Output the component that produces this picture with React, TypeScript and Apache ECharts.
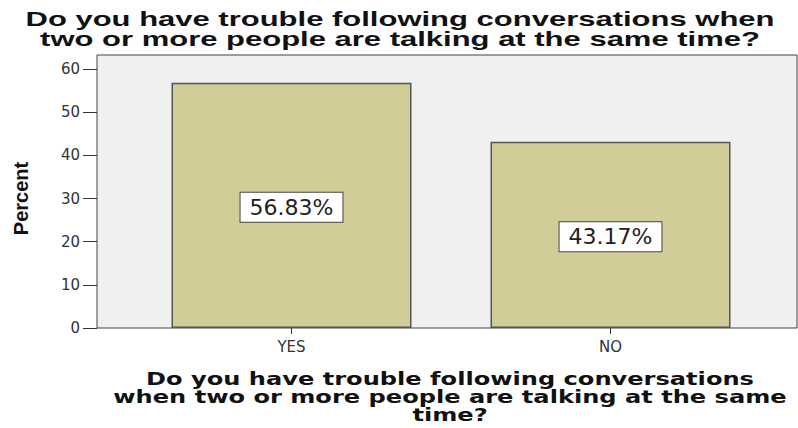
import React, { useEffect, useRef } from "react";
import * as echarts from "echarts";

const categories = ["YES", "NO"];
const percents = [56.83, 43.17];
const yTicks = [0, 10, 20, 30, 40, 50, 60];
const titleText = "Do you have trouble following conversations when\ntwo or more people are talking at the same time?";
const xTitleText = "Do you have trouble following conversations\nwhen two or more people are talking at the same\ntime?";

export default function App() {
  const ref = useRef<HTMLDivElement>(null);
  useEffect(() => {
    if (!ref.current) return;
    const chart = echarts.init(ref.current, null, { renderer: "svg" });
    chart.setOption({
      animation: false,
      backgroundColor: "#ffffff",
      graphic: [
        {
          type: "rect",
          z: 0,
          shape: { x: 97, y: 55, width: 700, height: 273 },
          style: { fill: "#f0f0f0", stroke: "#444", lineWidth: 1 },
        },
        {
          type: "text",
          z: 5,
          x: 400,
          y: 9,
          scaleX: 1.55,
          style: {
            text: titleText,
            align: "center",
            verticalAlign: "top",
            fontFamily: "Liberation Sans, Arial, sans-serif",
            fontWeight: "bold",
            fontSize: 20,
            lineHeight: 20,
            fill: "#111",
          },
        },
        {
          type: "text",
          z: 5,
          x: 450,
          y: 370,
          scaleX: 1.34,
          style: {
            text: xTitleText,
            align: "center",
            verticalAlign: "top",
            fontFamily: "DejaVu Sans, Verdana, sans-serif",
            fontWeight: "bold",
            fontSize: 18,
            lineHeight: 18,
            fill: "#111",
          },
        },
      ],
      grid: { left: 132, right: 28, top: 69, bottom: 100 },
      xAxis: {
        type: "category",
        data: categories,
        axisLine: { show: false },
        axisTick: { show: true, alignWithLabel: true, length: 6, lineStyle: { color: "#333" } },
        axisLabel: {
          fontFamily: "DejaVu Sans, Verdana, sans-serif",
          fontSize: 15,
          color: "#333",
          margin: 11,
        },
      },
      yAxis: {
        type: "value",
        min: 0,
        max: 60,
        interval: 10,
        offset: 35,
        splitLine: { show: false },
        axisLine: { show: false },
        axisTick: { show: true, length: 14, lineStyle: { color: "#333" } },
        axisLabel: {
          fontFamily: "DejaVu Sans, Verdana, sans-serif",
          fontSize: 15,
          color: "#333",
          margin: 17,
          formatter: (v: number) => (yTicks.includes(v) ? String(v) : ""),
        },
        name: "Percent",
        nameLocation: "middle",
        nameGap: 66,
        nameRotate: 90,
        nameTextStyle: {
          fontFamily: "Liberation Sans Narrow, Arial Narrow, sans-serif",
          fontWeight: "bold",
          fontSize: 20,
          color: "#111",
        },
      },
      series: [
        {
          type: "bar",
          data: percents,
          barWidth: 240,
          itemStyle: { color: "#d2cd98", borderColor: "#555", borderWidth: 1.5 },
          label: {
            show: true,
            position: "inside",
            offset: [0, 2],
            formatter: (p: any) => p.value.toFixed(2) + "%",
            fontFamily: "DejaVu Sans, Verdana, sans-serif",
            fontSize: 22,
            color: "#222",
            backgroundColor: "#ffffff",
            borderColor: "#444",
            borderWidth: 1,
            padding: [4, 9, 3, 9],
          },
        },
      ],
    });
    return () => chart.dispose();
  }, []);
  return <div ref={ref} style={{ width: 798, height: 428, position: "absolute", left: 0, top: 0 }} />;
}
